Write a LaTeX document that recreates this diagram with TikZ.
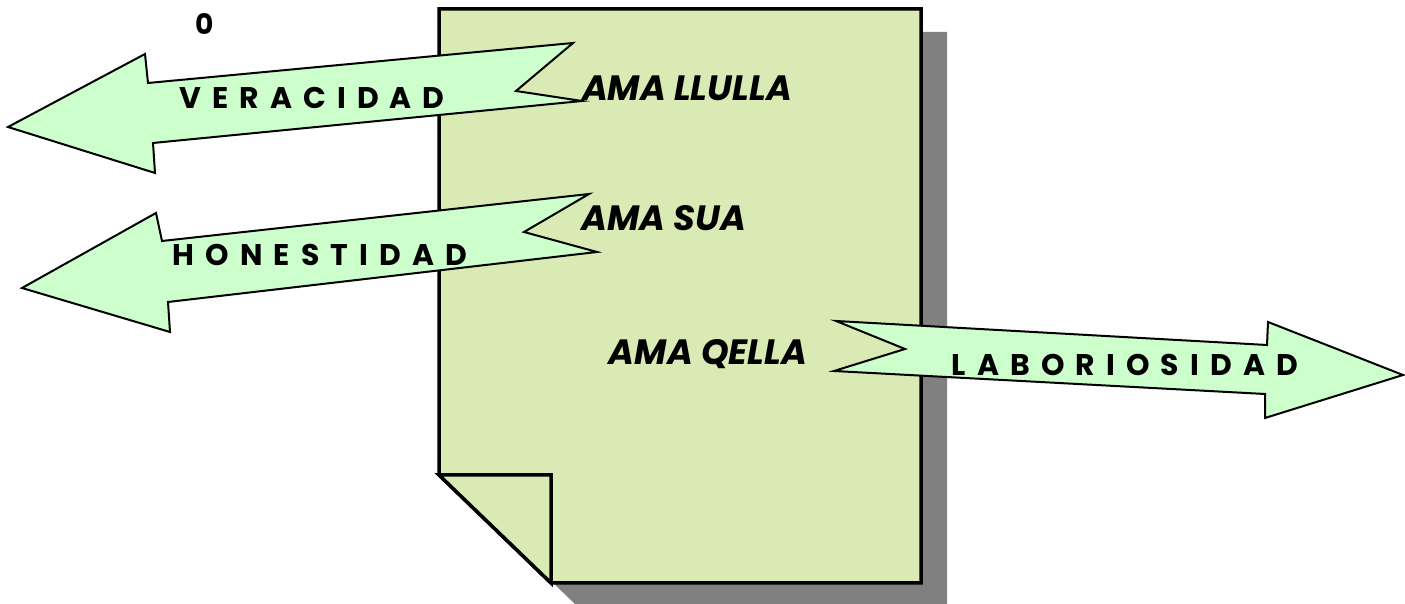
\documentclass[tikz,border=0pt]{standalone}
\usepackage{fontspec}
\setmainfont{Poppins}

\definecolor{sheet}{RGB}{217,234,180}
\definecolor{mint}{RGB}{204,255,204}

\begin{document}
\begin{tikzpicture}[x=0.1mm, y=-0.1mm,
    arrowband/.style={fill=mint, draw=black, line width=0.2mm, line join=miter},
    virtue/.style={font=\bfseries\fontsize{8.5}{9}\selectfont\addfontfeature{LetterSpace=16}, inner sep=0pt},
    precept/.style={font=\bfseries\itshape\fontsize{10}{11}\selectfont, inner sep=0pt}]
    \useasboundingbox (0,0) rectangle (1405,604);

    % sheet with turned-up corner and its shadow
    \fill[gray] (465,32) -- (947,32) -- (947,606) -- (577,606) -- (465,498) -- cycle;
    \draw[fill=sheet, line width=0.35mm, line join=miter]
        (439,9) -- (921,9) -- (921,583) -- (551,583) -- (439,475) -- cycle;
    \draw[fill=sheet, line width=0.35mm, line join=miter]
        (439,475) -- (551,475) -- (551,583) -- cycle;

    % the three arrows
    \draw[arrowband] (8,127) -- (145,54) -- (148,83) -- (573,43) -- (516,91)
        -- (582,101) -- (153,143) -- (155,173) -- cycle;
    \draw[arrowband] (22,288) -- (156,213) -- (162,241) -- (589,194) -- (524,232)
        -- (597,252) -- (168,302) -- (170,332) -- cycle;
    \draw[arrowband] (836,321) -- (1267,345) -- (1268,322) -- (1403,375)
        -- (1265,418) -- (1265,394) -- (834,371) -- (905,349) -- cycle;

    \node (cero) at (205,24) {\bfseries\fontsize{8}{9}\selectfont 0};

    \node[virtue] (veracidad) at (312,98) {V E R A C I D A D};
    \node[virtue] (honestidad) at (320,255) {H O N E S T I D A D};
    \node[virtue] (laboriosidad) at (1125,365) {L A B O R I O S I D A D};

    \node[precept] (llulla) at (687,88) {AMA LLULLA};
    \node[precept] (sua) at (664,218) {AMA SUA};
    \node[precept] (qella) at (708,354) {AMA QELLA};
\end{tikzpicture}
\end{document}
